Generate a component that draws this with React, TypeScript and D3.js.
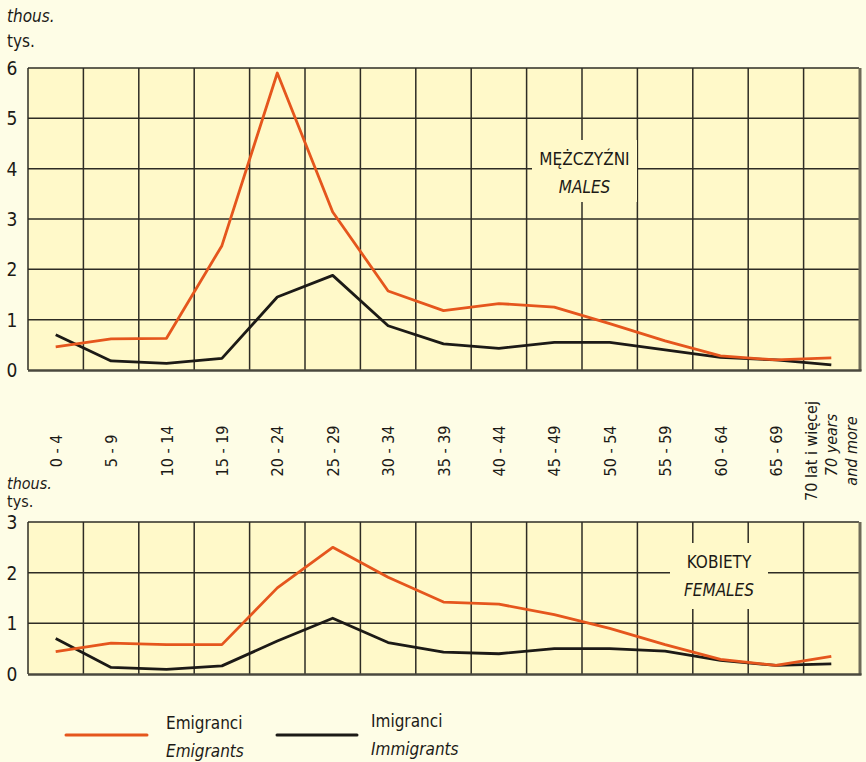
import React from 'react';
import * as d3 from 'd3';

const ageGroups = ['0 - 4', '5 - 9', '10 - 14', '15 - 19', '20 - 24', '25 - 29', '30 - 34', '35 - 39', '40 - 44', '45 - 49', '50 - 54', '55 - 59', '60 - 64', '65 - 69', '70+'];
const malesEmigrants = [0.46, 0.62, 0.63, 2.47, 5.9, 3.14, 1.57, 1.18, 1.32, 1.25, 0.92, 0.58, 0.28, 0.2, 0.24];
const malesImmigrants = [0.7, 0.18, 0.13, 0.23, 1.45, 1.88, 0.88, 0.52, 0.43, 0.55, 0.55, 0.4, 0.25, 0.2, 0.1];
const femalesEmigrants = [0.44, 0.61, 0.58, 0.58, 1.7, 2.5, 1.91, 1.42, 1.38, 1.17, 0.9, 0.58, 0.29, 0.17, 0.35];
const femalesImmigrants = [0.7, 0.13, 0.09, 0.16, 0.65, 1.1, 0.62, 0.43, 0.4, 0.5, 0.5, 0.45, 0.27, 0.17, 0.2];
const malesTicks = [0, 1, 2, 3, 4, 5, 6];
const femalesTicks = [0, 1, 2, 3];

const FONT = "'Liberation Sans Narrow', 'DejaVu Sans Condensed', Roboto, sans-serif";
const PAGE_BG = '#fefde6';
const PLOT_BG = '#fff9c9';
const ORANGE = '#e5561d';
const DARK = '#1c1a16';
const GRID = '#2e2c24';

const x = d3.scaleBand<string>().domain(ageGroups).range([28, 859]).padding(0);

interface PanelProps {
  top: number;
  bottom: number;
  max: number;
  ticks: number[];
  emigrants: number[];
  immigrants: number[];
  box: { x0: number; x1: number; y0: number; y1: number };
  label: string;
  labelEn: string;
}

const Panel: React.FC<PanelProps> = ({ top, bottom, max, ticks, emigrants, immigrants, box, label, labelEn }) => {
  const y = d3.scaleLinear().domain([0, max]).range([bottom, top]);
  const cx = (d: string) => (x(d) || 0) + x.bandwidth() / 2;
  const line = d3.line<number>().x((_, i) => cx(ageGroups[i])).y(d => y(d));
  const [x0, x1] = x.range();
  const bounds = ageGroups.map(g => x(g) || 0).slice(1);
  return (
    <g>
      <rect x={x0} y={top} width={x1 - x0} height={bottom - top} fill={PLOT_BG} />
      {ticks.slice(1, -1).map(t => (
        <line key={'h' + t} x1={x0} x2={x1} y1={y(t)} y2={y(t)} stroke={GRID} strokeWidth={1.5} />
      ))}
      {bounds.map((b, i) => (
        <line key={'v' + i} x1={b} x2={b} y1={top} y2={bottom} stroke={GRID} strokeWidth={1.5} />
      ))}
      <rect x={box.x0} y={box.y0} width={box.x1 - box.x0} height={box.y1 - box.y0} fill={PLOT_BG} />
      <text x={(box.x0 + box.x1) / 2} y={box.y0 + 25} textAnchor="middle" fontSize={17} fontFamily={FONT} fill={DARK}>{label}</text>
      <text x={(box.x0 + box.x1) / 2} y={box.y0 + 53} textAnchor="middle" fontSize={17} fontStyle="italic" fontFamily={FONT} fill={DARK}>{labelEn}</text>
      <line x1={x0} x2={x1} y1={top} y2={top} stroke={GRID} strokeWidth={1.5} />
      <line x1={x0} x2={x0} y1={top} y2={bottom} stroke={GRID} strokeWidth={1.5} />
      <line x1={x1 + 1} x2={x1 + 1} y1={top} y2={bottom + 1} stroke="#6e6b58" strokeWidth={3} />
      <line x1={x0} x2={x1 + 2.5} y1={bottom + 0.5} y2={bottom + 0.5} stroke="#4a483e" strokeWidth={2.5} />
      <path d={line(immigrants) || ''} fill="none" stroke={DARK} strokeWidth={2.8} strokeLinejoin="round" />
      <path d={line(emigrants) || ''} fill="none" stroke={ORANGE} strokeWidth={2.8} strokeLinejoin="round" />
      {ticks.map(t => (
        <text key={'t' + t} x={12} y={y(t)} dy="0.36em" textAnchor="middle" fontSize={19} fontFamily={FONT} fill={DARK}>{t}</text>
      ))}
    </g>
  );
};

const App: React.FC = () => {
  const labelY = 451;
  return (
    <svg width={866} height={762} style={{ position: 'absolute', left: 0, top: 0 }}>
      <rect width={866} height={762} fill={PAGE_BG} />
      <text x={7} y={22} fontSize={17} fontStyle="italic" fontFamily={FONT} fill={DARK}>thous.</text>
      <text x={7} y={47} fontSize={17} fontFamily={FONT} fill={DARK}>tys.</text>
      <Panel top={68} bottom={370} max={6} ticks={malesTicks} emigrants={malesEmigrants} immigrants={malesImmigrants}
        box={{ x0: 532, x1: 637, y0: 140, y1: 202 }} label="MĘŻCZYŹNI" labelEn="MALES" />
      {ageGroups.slice(0, -1).map(g => {
        const c = (x(g) || 0) + x.bandwidth() / 2;
        return (
          <text key={g} transform={`translate(${c + 6},${labelY}) rotate(-90)`} textAnchor="middle" fontSize={16} fontFamily={FONT} fill={DARK}>{g}</text>
        );
      })}
      {(() => {
        const c = (x('70+') || 0) + x.bandwidth() / 2;
        return (
          <g fontSize={16} fontFamily={FONT} fill={DARK} textAnchor="middle">
            <text transform={`translate(${c - 14},${labelY}) rotate(-90)`}>70 lat i więcej</text>
            <text transform={`translate(${c + 6},${labelY - 6}) rotate(-90)`} fontStyle="italic">70 years</text>
            <text transform={`translate(${c + 26},${labelY}) rotate(-90)`} fontStyle="italic">and more</text>
          </g>
        );
      })()}
      <text x={7} y={489} fontSize={16} fontStyle="italic" fontFamily={FONT} fill={DARK}>thous.</text>
      <text x={7} y={507} fontSize={16} fontFamily={FONT} fill={DARK}>tys.</text>
      <Panel top={522} bottom={674} max={3} ticks={femalesTicks} emigrants={femalesEmigrants} immigrants={femalesImmigrants}
        box={{ x0: 670, x1: 768, y0: 543, y1: 609 }} label="KOBIETY" labelEn="FEMALES" />
      <line x1={66} x2={147} y1={735} y2={735} stroke={ORANGE} strokeWidth={3} strokeLinecap="round" />
      <text x={166} y={729} fontSize={17} fontFamily={FONT} fill={DARK}>Emigranci</text>
      <text x={166} y={757} fontSize={17} fontStyle="italic" fontFamily={FONT} fill={DARK}>Emigrants</text>
      <line x1={277} x2={357} y1={735} y2={735} stroke={DARK} strokeWidth={3} strokeLinecap="round" />
      <text x={371} y={727} fontSize={17} fontFamily={FONT} fill={DARK}>Imigranci</text>
      <text x={371} y={755} fontSize={17} fontStyle="italic" fontFamily={FONT} fill={DARK}>Immigrants</text>
    </svg>
  );
};

export default App;
